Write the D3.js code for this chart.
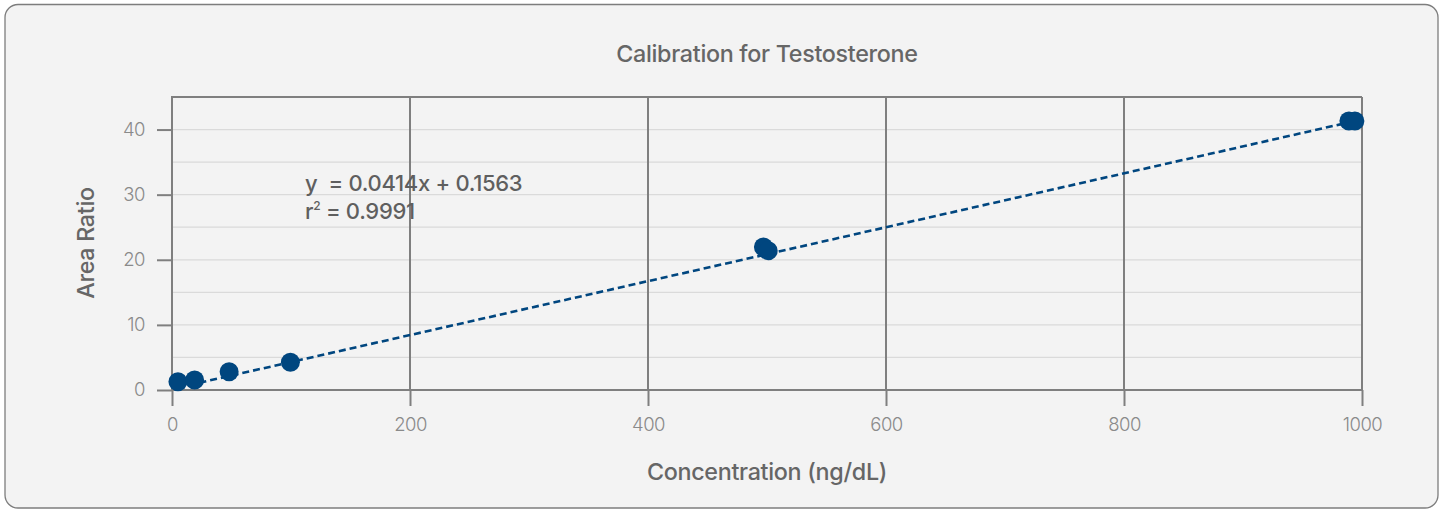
<!DOCTYPE html>
<html><head><meta charset="utf-8">
<script src="https://cdn.jsdelivr.net/npm/d3@7"></script>
<style>
html,body{margin:0;padding:0;background:#fff;}
svg{display:block;}
</style></head>
<body><svg id="chart" width="1448" height="512"></svg>
<script>
const concentration = [5, 19, 48, 99.5, 497, 501, 989, 994];
const areaRatio = [1.27, 1.53, 2.8, 4.25, 21.95, 21.4, 41.3, 41.3];
const xTicks = [0, 200, 400, 600, 800, 1000];
const yTicks = [0, 10, 20, 30, 40];
const yGrid = [5, 10, 15, 20, 25, 30, 35, 40];
const slope = 0.0414, intercept = 0.1563;
const titleText = "Calibration for Testosterone";
const xTitle = "Concentration (ng/dL)";
const yTitle = "Area Ratio";

const svg = d3.select("#chart");
svg.append("rect").attr("x",5).attr("y",4.5).attr("width",1433).attr("height",503.5)
  .attr("rx",13).attr("fill","#f3f3f3").attr("stroke","#7d7d7d").attr("stroke-width",1.3);

const L=172, R=1362, T=97, B=390;
const x = d3.scaleLinear().domain([0,1000]).range([L,R]);
const y = d3.scaleLinear().domain([0,45]).range([B,T]);
const axisCol = "#7f7f7f";

svg.append("g").selectAll("line").data(yGrid).join("line")
  .attr("x1",L).attr("x2",R).attr("y1",d=>y(d)).attr("y2",d=>y(d))
  .attr("stroke","#dadada").attr("stroke-width",1.2);

svg.append("g").selectAll("line").data(xTicks.filter(d=>d>0)).join("line")
  .attr("x1",d=>x(d)).attr("x2",d=>x(d)).attr("y1",T).attr("y2",B)
  .attr("stroke",axisCol).attr("stroke-width",2);
svg.append("line").attr("x1",L).attr("x2",R).attr("y1",T).attr("y2",T)
  .attr("stroke",axisCol).attr("stroke-width",2);

const fontTick = "'Inter', 'Liberation Sans', sans-serif";
const xAxis = svg.append("g").attr("transform",`translate(0,${B})`)
  .call(d3.axisBottom(x).tickValues(xTicks).tickSize(16).tickPadding(12).tickFormat(d3.format("d")));
const yAxis = svg.append("g").attr("transform",`translate(${L},0)`)
  .call(d3.axisLeft(y).tickValues(yTicks).tickSize(15).tickPadding(12).tickFormat(d3.format("d")));
[xAxis,yAxis].forEach(a=>{
  a.select(".domain").remove();
  a.selectAll(".tick line").attr("stroke",axisCol).attr("stroke-width",2);
  a.selectAll(".tick text").attr("fill","#8a8a8a").style("font-family",fontTick)
    .style("font-weight",300).style("font-size","18.5px").style("letter-spacing","-0.5px");
});
svg.append("line").attr("x1",L).attr("x2",R).attr("y1",B).attr("y2",B).attr("stroke",axisCol).attr("stroke-width",2);
svg.append("line").attr("x1",L).attr("x2",L).attr("y1",T-1).attr("y2",B).attr("stroke",axisCol).attr("stroke-width",2);

const x0 = d3.min(concentration), x1 = d3.max(concentration);
svg.append("line").attr("x1",x(x0)).attr("y1",y(slope*x0+intercept))
  .attr("x2",x(x1)).attr("y2",y(slope*x1+intercept))
  .attr("stroke","#00467f").attr("stroke-width",2.6).attr("stroke-dasharray","7,4");

svg.append("g").selectAll("circle").data(concentration).join("circle")
  .attr("cx",d=>x(d)).attr("cy",(d,i)=>y(areaRatio[i])).attr("r",9.5)
  .attr("fill","#00467f");

const fontMain = "'Inter', 'Liberation Sans', Arial, sans-serif";
function label(sel){ return sel.style("font-family",fontMain).style("font-size","23.3px")
  .style("font-weight",500).style("letter-spacing","-0.3px").attr("fill","#666"); }
label(svg.append("text").attr("x",767).attr("y",62).attr("text-anchor","middle")).text(titleText);
label(svg.append("text").attr("x",767).attr("y",480).attr("text-anchor","middle")).text(xTitle);
label(svg.append("text").attr("transform","translate(94,243) rotate(-90)").attr("text-anchor","middle")).text(yTitle);

const eq = svg.append("text").style("font-family",fontMain).style("font-size","22px")
  .style("font-weight",500).style("letter-spacing","-0.3px").attr("fill","#5f5f5f");
eq.append("tspan").attr("x",305).attr("y",191).attr("xml:space","preserve")
  .text(`y  = ${slope}x + ${intercept}`);
const t2 = eq.append("tspan").attr("x",305).attr("y",219);
t2.append("tspan").text("r");
t2.append("tspan").attr("dy",-9).style("font-size","12px").text("2");
t2.append("tspan").attr("dy",9).text(" = 0.9991");
</script></body></html>
